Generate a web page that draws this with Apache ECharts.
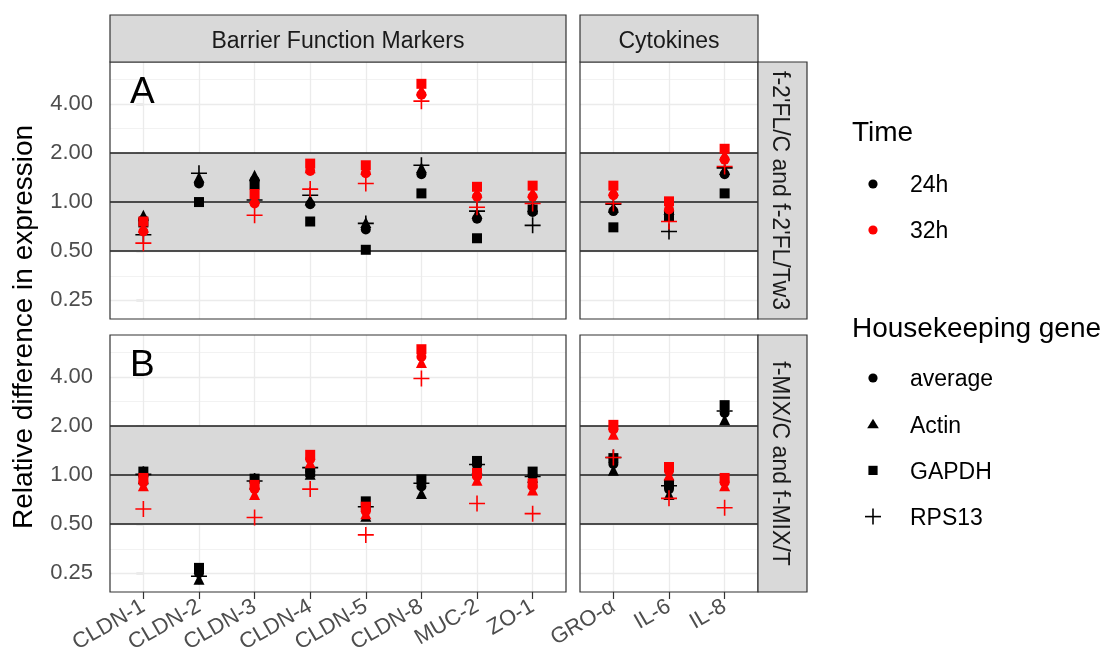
<!DOCTYPE html>
<html><head><meta charset="utf-8">
<script src="https://cdn.jsdelivr.net/npm/echarts@6/dist/echarts.min.js"></script>
<style>html,body{margin:0;padding:0;background:#fff}#c{width:1108px;height:668px}</style>
</head><body><div id="c"></div>
<script>
// ---------------- data ----------------
const barrierGenes = ['CLDN-1','CLDN-2','CLDN-3','CLDN-4','CLDN-5','CLDN-8','MUC-2','ZO-1'];
const cytokineGenes = ['GRO-α','IL-6','IL-8'];
const colLabels = ['Barrier Function Markers','Cytokines'];
const rowLabels = ["f-2'FL/C and f-2'FL/Tw3", 'f-MIX/C and f-MIX/T'];
const panelTags = ['A','B'];
const times = ['24h','32h'];
const hkGenes = ['average','Actin','GAPDH','RPS13'];
const yTickValues = [0.25, 0.5, 1, 2, 4];
const bandLines = [0.5, 1, 2];

// values per gene: CLDN-1 … ZO-1, GRO-α, IL-6, IL-8
// row A: f-2'FL
const fl_24h_average = [0.78, 1.30, 1.36, 0.97, 0.68, 1.48, 0.79, 0.87, 0.88, 0.86, 1.48];
const fl_24h_actin   = [0.83, 1.42, 1.46, 1.03, 0.75, 1.62, 0.85, 0.94, 0.93, 0.90, 1.58];
const fl_24h_gapdh   = [0.75, 1.00, 1.28, 0.76, 0.51, 1.13, 0.60, 0.90, 0.70, 0.82, 1.13];
const fl_24h_rps13   = [0.63, 1.50, 1.03, 1.10, 0.74, 1.68, 0.88, 0.72, 0.97, 0.66, 1.62];
const fl_32h_average = [0.66, null, 0.98, 1.55, 1.50, 4.55, 1.08, 1.08, 1.10, 0.90, 1.82];
const fl_32h_actin   = [0.70, null, 1.05, 1.62, 1.58, 4.85, 1.15, 1.15, 1.18, 0.95, 1.95];
const fl_32h_gapdh   = [0.76, null, 1.12, 1.72, 1.68, 5.30, 1.24, 1.26, 1.26, 1.01, 2.12];
const fl_32h_rps13   = [0.56, null, 0.83, 1.20, 1.30, 4.15, 0.93, 0.98, 0.98, 0.76, 1.65];
// row B: f-MIX
const mix_24h_average = [0.98, 0.25, 0.91, 1.05, 0.62, 0.85, 1.15, 0.99, 1.17, 0.82, 2.40];
const mix_24h_actin   = [0.95, 0.23, 0.88, 1.01, 0.56, 0.77, 1.10, 0.97, 1.07, 0.76, 2.18];
const mix_24h_gapdh   = [1.05, 0.27, 0.95, 1.04, 0.69, 0.94, 1.22, 1.05, 1.27, 0.88, 2.68];
const mix_24h_rps13   = [1.01, 0.24, 0.92, 1.11, 0.64, 0.89, 1.16, 0.98, 1.28, 0.86, 2.47];
const mix_32h_average = [0.90, null, 0.82, 1.25, 0.60, 5.30, 0.98, 0.85, 1.90, 1.06, 0.90];
const mix_32h_actin   = [0.86, null, 0.76, 1.19, 0.58, 4.90, 0.93, 0.81, 1.78, 1.00, 0.86];
const mix_32h_gapdh   = [0.96, null, 0.87, 1.33, 0.64, 5.90, 1.03, 0.89, 2.03, 1.12, 0.96];
const mix_32h_rps13   = [0.62, null, 0.55, 0.82, 0.43, 3.90, 0.67, 0.58, 1.28, 0.72, 0.63];

const rowsData = [
  { '24h': {average: fl_24h_average, Actin: fl_24h_actin, GAPDH: fl_24h_gapdh, RPS13: fl_24h_rps13},
    '32h': {average: fl_32h_average, Actin: fl_32h_actin, GAPDH: fl_32h_gapdh, RPS13: fl_32h_rps13} },
  { '24h': {average: mix_24h_average, Actin: mix_24h_actin, GAPDH: mix_24h_gapdh, RPS13: mix_24h_rps13},
    '32h': {average: mix_32h_average, Actin: mix_32h_actin, GAPDH: mix_32h_gapdh, RPS13: mix_32h_rps13} }
];

// ---------------- layout & style ----------------
const FONT = '"Liberation Sans", Arial, Helvetica, sans-serif';
const COLS = [{left: 110, width: 456, cats: barrierGenes, offset: 0},
              {left: 580, width: 178, cats: cytokineGenes, offset: 8}];
const ROWS = [{top: 62, height: 257}, {top: 335, height: 257}];
const Y_MIN = Math.pow(2, -2.38), Y_MAX = Math.pow(2, 2.85);
const timeColor = {'24h': '#000000', '32h': '#ff0000'};
const PLUS = 'path://M0,7.2 L16,7.2 L16,8.8 L0,8.8 Z M7.2,0 L8.8,0 L8.8,16 L7.2,16 Z';
const hkSymbol = {average: 'circle', Actin: 'triangle', GAPDH: 'rect', RPS13: PLUS};
const hkSize = {average: 10, Actin: 11, GAPDH: 10, RPS13: 16};
const drawOrder = ['GAPDH','Actin','average','RPS13'];

const grids = [], xAxes = [], yAxes = [], series = [], graphics = [];
const minorY = [-2, -1, 0, 1, 2].map(k => Math.pow(2, k + 0.5));

ROWS.forEach((R, r) => {
  COLS.forEach((C, c) => {
    const g = grids.length;
    grids.push({left: C.left, top: R.top, width: C.width, height: R.height, containLabel: false});
    const n = C.cats.length;
    const idx = C.cats.map((_, i) => i);
    const bottom = r === ROWS.length - 1;
    const xMin = -0.6, xMax = n - 1 + 0.6;
    xAxes.push({
      type: 'value', gridIndex: g, min: xMin, max: xMax,
      splitLine: {show: false}, axisLine: {show: false},
      axisTick: {show: bottom, customValues: idx, length: 7, lineStyle: {color: '#333', width: 1.2}},
      axisLabel: {show: bottom, customValues: idx, rotate: 30, margin: 13, fontSize: 22,
        fontFamily: FONT, color: '#4d4d4d', formatter: v => C.cats[Math.round(v)]}
    });
    const left = c === 0;
    yAxes.push({
      type: 'log', logBase: 2, gridIndex: g, min: Y_MIN, max: Y_MAX,
      splitLine: {show: false}, axisLine: {show: false},
      axisTick: {show: left, customValues: yTickValues, length: 7, lineStyle: {color: '#333', width: 1.2}},
      axisLabel: {show: left, customValues: yTickValues, margin: 17, fontSize: 22,
        fontFamily: FONT, color: '#4d4d4d', formatter: v => Number(v).toFixed(2)}
    });
    // background grid lines
    const hLine = (v, col, w) => [{coord: [xMin, v], lineStyle: {color: col, width: w, type: 'solid'}}, {coord: [xMax, v]}];
    const vLine = (v) => [{coord: [v, Y_MIN], lineStyle: {color: '#ebebeb', width: 1.3, type: 'solid'}}, {coord: [v, Y_MAX]}];
    series.push({
      type: 'scatter', xAxisIndex: g, yAxisIndex: g, data: [], silent: true, z: 1,
      markLine: {
        silent: true, symbol: ['none', 'none'], animation: false, z: 1, label: {show: false},
        data: [
          ...minorY.map(v => hLine(v, '#ededed', 0.7)),
          ...yTickValues.map(v => hLine(v, '#ebebeb', 1.3)),
          ...idx.map(v => vLine(v))
        ]
      }
    });
    // grey band
    series.push({
      type: 'scatter', xAxisIndex: g, yAxisIndex: g, data: [], silent: true, z: 2,
      markArea: {silent: true, animation: false, z: 2, itemStyle: {color: '#d9d9d9'},
        data: [[{yAxis: 0.5}, {yAxis: 2}]]}
    });
    // reference lines
    series.push({
      type: 'scatter', xAxisIndex: g, yAxisIndex: g, data: [], silent: true, z: 3,
      markLine: {silent: true, symbol: ['none', 'none'], animation: false, z: 3, label: {show: false},
        lineStyle: {color: '#1a1a1a', width: 1.5, type: 'solid'},
        data: bandLines.map(v => ({yAxis: v}))}
    });
    // points
    times.forEach(t => {
      drawOrder.forEach(h => {
        const arr = rowsData[r][t][h].slice(C.offset, C.offset + n);
        const data = [];
        arr.forEach((v, i) => { if (v != null) data.push([i, v]); });
        series.push({
          type: 'scatter', name: t + ' ' + h, xAxisIndex: g, yAxisIndex: g, z: 4,
          symbol: hkSymbol[h], symbolSize: hkSize[h], data: data,
          itemStyle: {color: timeColor[t], opacity: 1}, animation: false
        });
      });
    });
    // panel border
    graphics.push({type: 'rect', z: 100, shape: {x: C.left, y: R.top, width: C.width, height: R.height},
      style: {fill: 'none', stroke: '#333', lineWidth: 1.2}});
  });
});

// strips
COLS.forEach((C, c) => {
  graphics.push({type: 'rect', z: 100, shape: {x: C.left, y: 15, width: C.width, height: ROWS[0].top - 15},
    style: {fill: '#d9d9d9', stroke: '#333', lineWidth: 1.2}});
  graphics.push({type: 'text', z: 101, x: C.left + C.width / 2, y: (15 + ROWS[0].top) / 2 + 3,
    style: {text: colLabels[c], font: '23px ' + FONT, fill: '#1a1a1a', align: 'center', verticalAlign: 'middle'}});
});
const stripX = COLS[1].left + COLS[1].width;
ROWS.forEach((R, r) => {
  graphics.push({type: 'rect', z: 100, shape: {x: stripX, y: R.top, width: 49, height: R.height},
    style: {fill: '#d9d9d9', stroke: '#333', lineWidth: 1.2}});
  graphics.push({type: 'text', z: 101, x: stripX + 21, y: R.top + R.height / 2, rotation: -Math.PI / 2,
    style: {text: rowLabels[r], font: '23px ' + FONT, fill: '#1a1a1a', align: 'center', verticalAlign: 'middle'}});
  graphics.push({type: 'text', z: 101, x: 130, y: R.top + 31,
    style: {text: panelTags[r], font: '37px ' + FONT, fill: '#000', align: 'left', verticalAlign: 'middle'}});
});
// y axis title
graphics.push({type: 'text', z: 101, x: 24, y: 327, rotation: Math.PI / 2,
  style: {text: 'Relative difference in expression', font: '28px ' + FONT, fill: '#000', align: 'center', verticalAlign: 'middle'}});

// legend
const LX = 852, SX = 873, TX = 910;
graphics.push({type: 'text', z: 101, x: LX, y: 133, style: {text: 'Time', font: '28px ' + FONT, fill: '#000', verticalAlign: 'middle'}});
times.forEach((t, i) => {
  const y = 184 + i * 46;
  graphics.push({type: 'circle', z: 101, shape: {cx: SX, cy: y, r: 4.6}, style: {fill: timeColor[t]}});
  graphics.push({type: 'text', z: 101, x: TX, y: y + 2, style: {text: t, font: '23px ' + FONT, fill: '#000', verticalAlign: 'middle'}});
});
graphics.push({type: 'text', z: 101, x: LX, y: 329, style: {text: 'Housekeeping gene', font: '28px ' + FONT, fill: '#000', verticalAlign: 'middle'}});
hkGenes.forEach((h, i) => {
  const y = 378 + i * 46.2;
  if (h === 'average') graphics.push({type: 'circle', z: 101, shape: {cx: SX, cy: y, r: 4.6}, style: {fill: '#000'}});
  if (h === 'Actin') graphics.push({type: 'polygon', z: 101, shape: {points: [[SX, y - 5.5], [SX + 5.8, y + 4], [SX - 5.8, y + 4]]}, style: {fill: '#000'}});
  if (h === 'GAPDH') graphics.push({type: 'rect', z: 101, shape: {x: SX - 4.6, y: y - 4.6, width: 9.2, height: 9.2}, style: {fill: '#000'}});
  if (h === 'RPS13') {
    graphics.push({type: 'rect', z: 101, shape: {x: SX - 8, y: y - 0.8, width: 16, height: 1.6}, style: {fill: '#000'}});
    graphics.push({type: 'rect', z: 101, shape: {x: SX - 0.8, y: y - 8, width: 1.6, height: 16}, style: {fill: '#000'}});
  }
  graphics.push({type: 'text', z: 101, x: TX, y: y + 2, style: {text: h, font: '23px ' + FONT, fill: '#000', verticalAlign: 'middle'}});
});

const chart = echarts.init(document.getElementById('c'), null, {renderer: 'canvas'});
chart.setOption({
  animation: false,
  backgroundColor: '#ffffff',
  grid: grids, xAxis: xAxes, yAxis: yAxes, series: series, graphic: graphics
});
</script></body></html>
